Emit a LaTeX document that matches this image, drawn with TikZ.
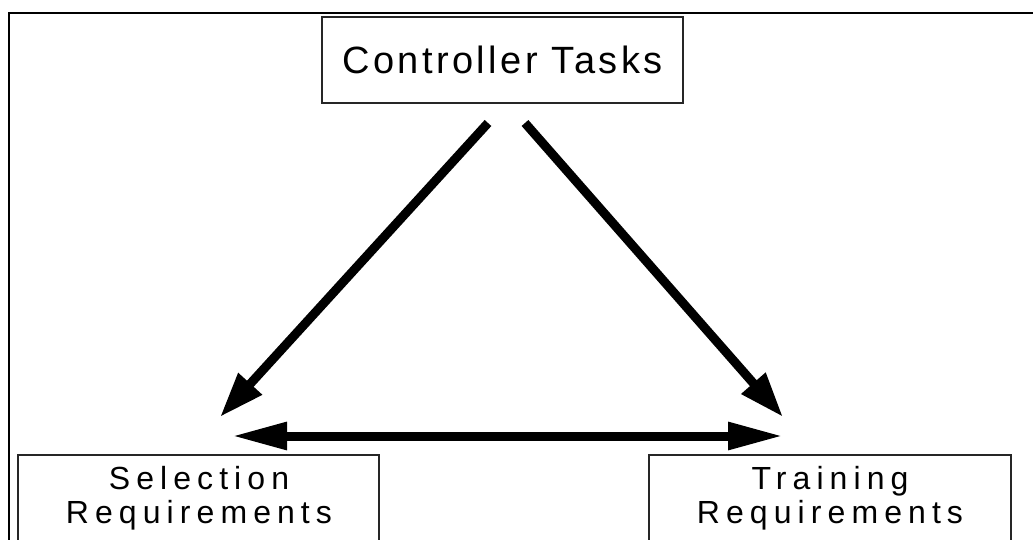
\documentclass[tikz,border=0pt]{standalone}
\usepackage{fontspec}
\setmainfont{Liberation Sans}
\newfontfamily\headfont{Liberation Sans}[LetterSpace=9]
\newfontfamily\reqfont{Liberation Sans}[LetterSpace=19]
\usetikzlibrary{arrows.meta}
\begin{document}
\begin{tikzpicture}[x=1pt,y=-1pt,
  box/.style={draw=black!85, line width=1.5pt, fill=white, inner sep=0pt},
  reqtext/.style={align=center, inner sep=0pt, font=\reqfont\fontsize{32}{34}\selectfont},
  flow/.style={line width=9pt, line cap=butt},
  diag/.style={flow, -{Triangle[length=45pt,width=30pt]}},
  link/.style={flow, {Triangle[length=55pt,width=26pt]}-{Triangle[length=55pt,width=26pt]}}]
  \useasboundingbox (0,0) rectangle (1033,540);
  \clip (0,0) rectangle (1033,540);
  % outer frame (runs off the right and bottom edges)
  \draw[line width=2.5pt] (9,580) -- (9,13) -- (1060,13);
  % boxes
  \node[box, minimum width=361pt, minimum height=86pt,
        font=\headfont\fontsize{38}{44}\selectfont] (ct) at (502.5,60) {Controller Tasks};
  \node[box, anchor=north west, minimum width=361pt, minimum height=120pt] (sel) at (17,454) {};
  \node[box, anchor=north west, minimum width=362pt, minimum height=120pt] (trn) at (648,454) {};
  \node[reqtext] (sellbl) at (199,498) {Selection\\Requirements};
  \node[reqtext] (trnlbl) at (830,498) {Training\\Requirements};
  % arrow end points
  \coordinate (ctL) at (488,123);
  \coordinate (ctR) at (525,123);
  \coordinate (selT) at (220,417);
  \coordinate (trnT) at (783,417);
  \coordinate (selH) at (232,436);
  \coordinate (trnH) at (783,436);
  % connectors
  \draw[diag] (ctL) -- (selT);
  \draw[diag] (ctR) -- (trnT);
  \draw[link] (selH) -- (trnH);
\end{tikzpicture}
\end{document}
